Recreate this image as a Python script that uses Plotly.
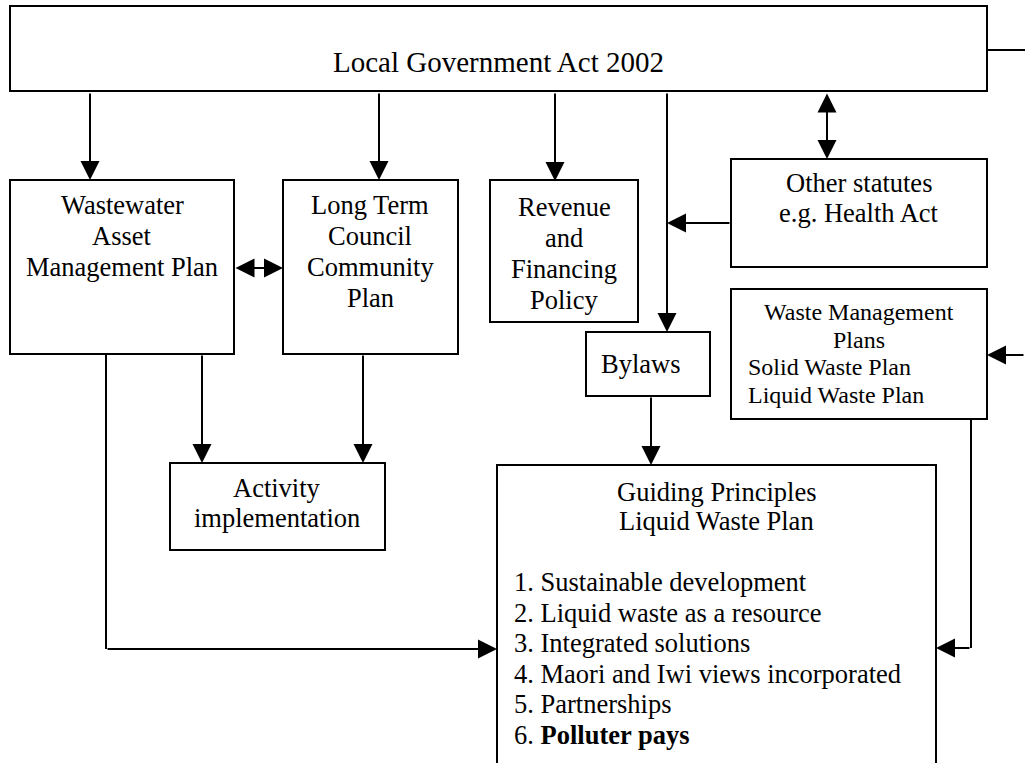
"""
Liquid waste planning framework — box-and-arrow diagram drawn with Plotly Go
"""
import plotly.graph_objects as go

W, H = 1025, 763
FONT = "Liberation Serif, Times New Roman, serif"
INK = "#000000"

# box texts
TITLE = "Local Government Act 2002"
WASTEWATER = ["Wastewater", "Asset", "Management Plan"]
LTCCP = ["Long Term", "Council", "Community", "Plan"]
REVENUE = ["Revenue", "and", "Financing", "Policy"]
OTHER = ["Other statutes", "e.g. Health Act"]
WASTE_PLANS = ["Waste Management", "Plans"]
WASTE_LIST = ["Solid Waste Plan", "Liquid Waste Plan"]
BYLAWS = ["Bylaws"]
ACTIVITY = ["Activity", "implementation"]
GUIDING = ["Guiding Principles", "Liquid Waste Plan"]
PRINCIPLES = ["Sustainable development", "Liquid waste as a resource",
              "Integrated solutions", "Maori and Iwi views incorporated",
              "Partnerships", "<b>Polluter pays</b>"]

# layout of the boxes (x0, y0, x1, y1) in page pixels
BOXES = dict(
    top=(10, 6, 987, 91),
    ww=(10, 180, 234, 354),
    lt=(283, 180, 458, 354),
    rev=(490, 180, 638, 322),
    oth=(731, 159, 987, 267),
    wmp=(731, 289, 987, 419),
    byl=(586, 332, 710, 396),
    act=(170, 463, 385, 550),
    gui=(497, 465, 936, 820),
)

fig = go.Figure()

for x0, y0, x1, y1 in BOXES.values():
    fig.add_shape(type="rect", x0=x0, y0=y0, x1=x1, y1=y1,
                  line=dict(color=INK, width=2), fillcolor="rgba(0,0,0,0)")


def text_lines(lines, x, y0, dy, size=26.5, anchor="center"):
    for i, t in enumerate(lines):
        fig.add_annotation(x=x, y=y0 + i * dy, text=t, showarrow=False,
                           xanchor=anchor, yanchor="middle",
                           font=dict(family=FONT, size=size, color=INK))


text_lines([TITLE], 498, 62, 0, size=29)
text_lines(WASTEWATER, 122, 205, 31)
text_lines(LTCCP, 370, 205, 31)
text_lines(REVENUE, 564, 207, 31)
text_lines(OTHER, 859, 183, 30)
text_lines(WASTE_PLANS, 859, 312, 28, size=24)
text_lines(WASTE_LIST, 746, 367, 27.5, size=24, anchor="left")
text_lines(BYLAWS, 641, 364, 0)
text_lines(ACTIVITY, 277, 488, 30)
text_lines(GUIDING, 716, 492, 29)
text_lines([f"{i}. {t}" for i, t in enumerate(PRINCIPLES, 1)], 512, 582, 30.6,
           anchor="left")


def arrow(tail, tip, both=False):
    fig.add_annotation(x=tip[0], y=tip[1], ax=tail[0], ay=tail[1],
                       xref="x", yref="y", axref="x", ayref="y",
                       text="", showarrow=True,
                       arrowhead=2, arrowsize=1.9, arrowwidth=2, arrowcolor=INK,
                       arrowside="end+start" if both else "end",
                       startarrowhead=2, startarrowsize=1.9,
                       standoff=0, startstandoff=0)


def seg(a, b):
    fig.add_shape(type="line", x0=a[0], y0=a[1], x1=b[0], y1=b[1],
                  line=dict(color=INK, width=2))


# from the Act
arrow((90, 92), (90, 180))
arrow((379, 92), (379, 180))
arrow((555, 92), (555, 181))
arrow((667, 92), (667, 332))
arrow((827, 92), (827, 159), both=True)
arrow((731, 223), (667, 223))
arrow((234, 268), (283, 268), both=True)

# into activity / guiding principles
arrow((202, 354), (202, 463))
arrow((363, 354), (363, 463))
arrow((651, 396), (651, 465))
seg((106, 354), (106, 649))
arrow((106, 649), (497, 649))
seg((971, 419), (971, 648))
arrow((971, 648), (936, 648))

# off-page connectors on the right
seg((987, 50), (1025, 50))
arrow((1025, 355), (987, 355))

fig.update_layout(
    width=W, height=H,
    margin=dict(l=0, r=0, t=0, b=0),
    paper_bgcolor="white", plot_bgcolor="white",
    showlegend=False,
    xaxis=dict(range=[0, W], visible=False, fixedrange=True),
    yaxis=dict(range=[H, 0], visible=False, fixedrange=True),
)

# page body margin would push the figure 8px off the corner
fig.write_html("out.html", config={"displayModeBar": False},
               post_script="document.body.style.margin='0';")
